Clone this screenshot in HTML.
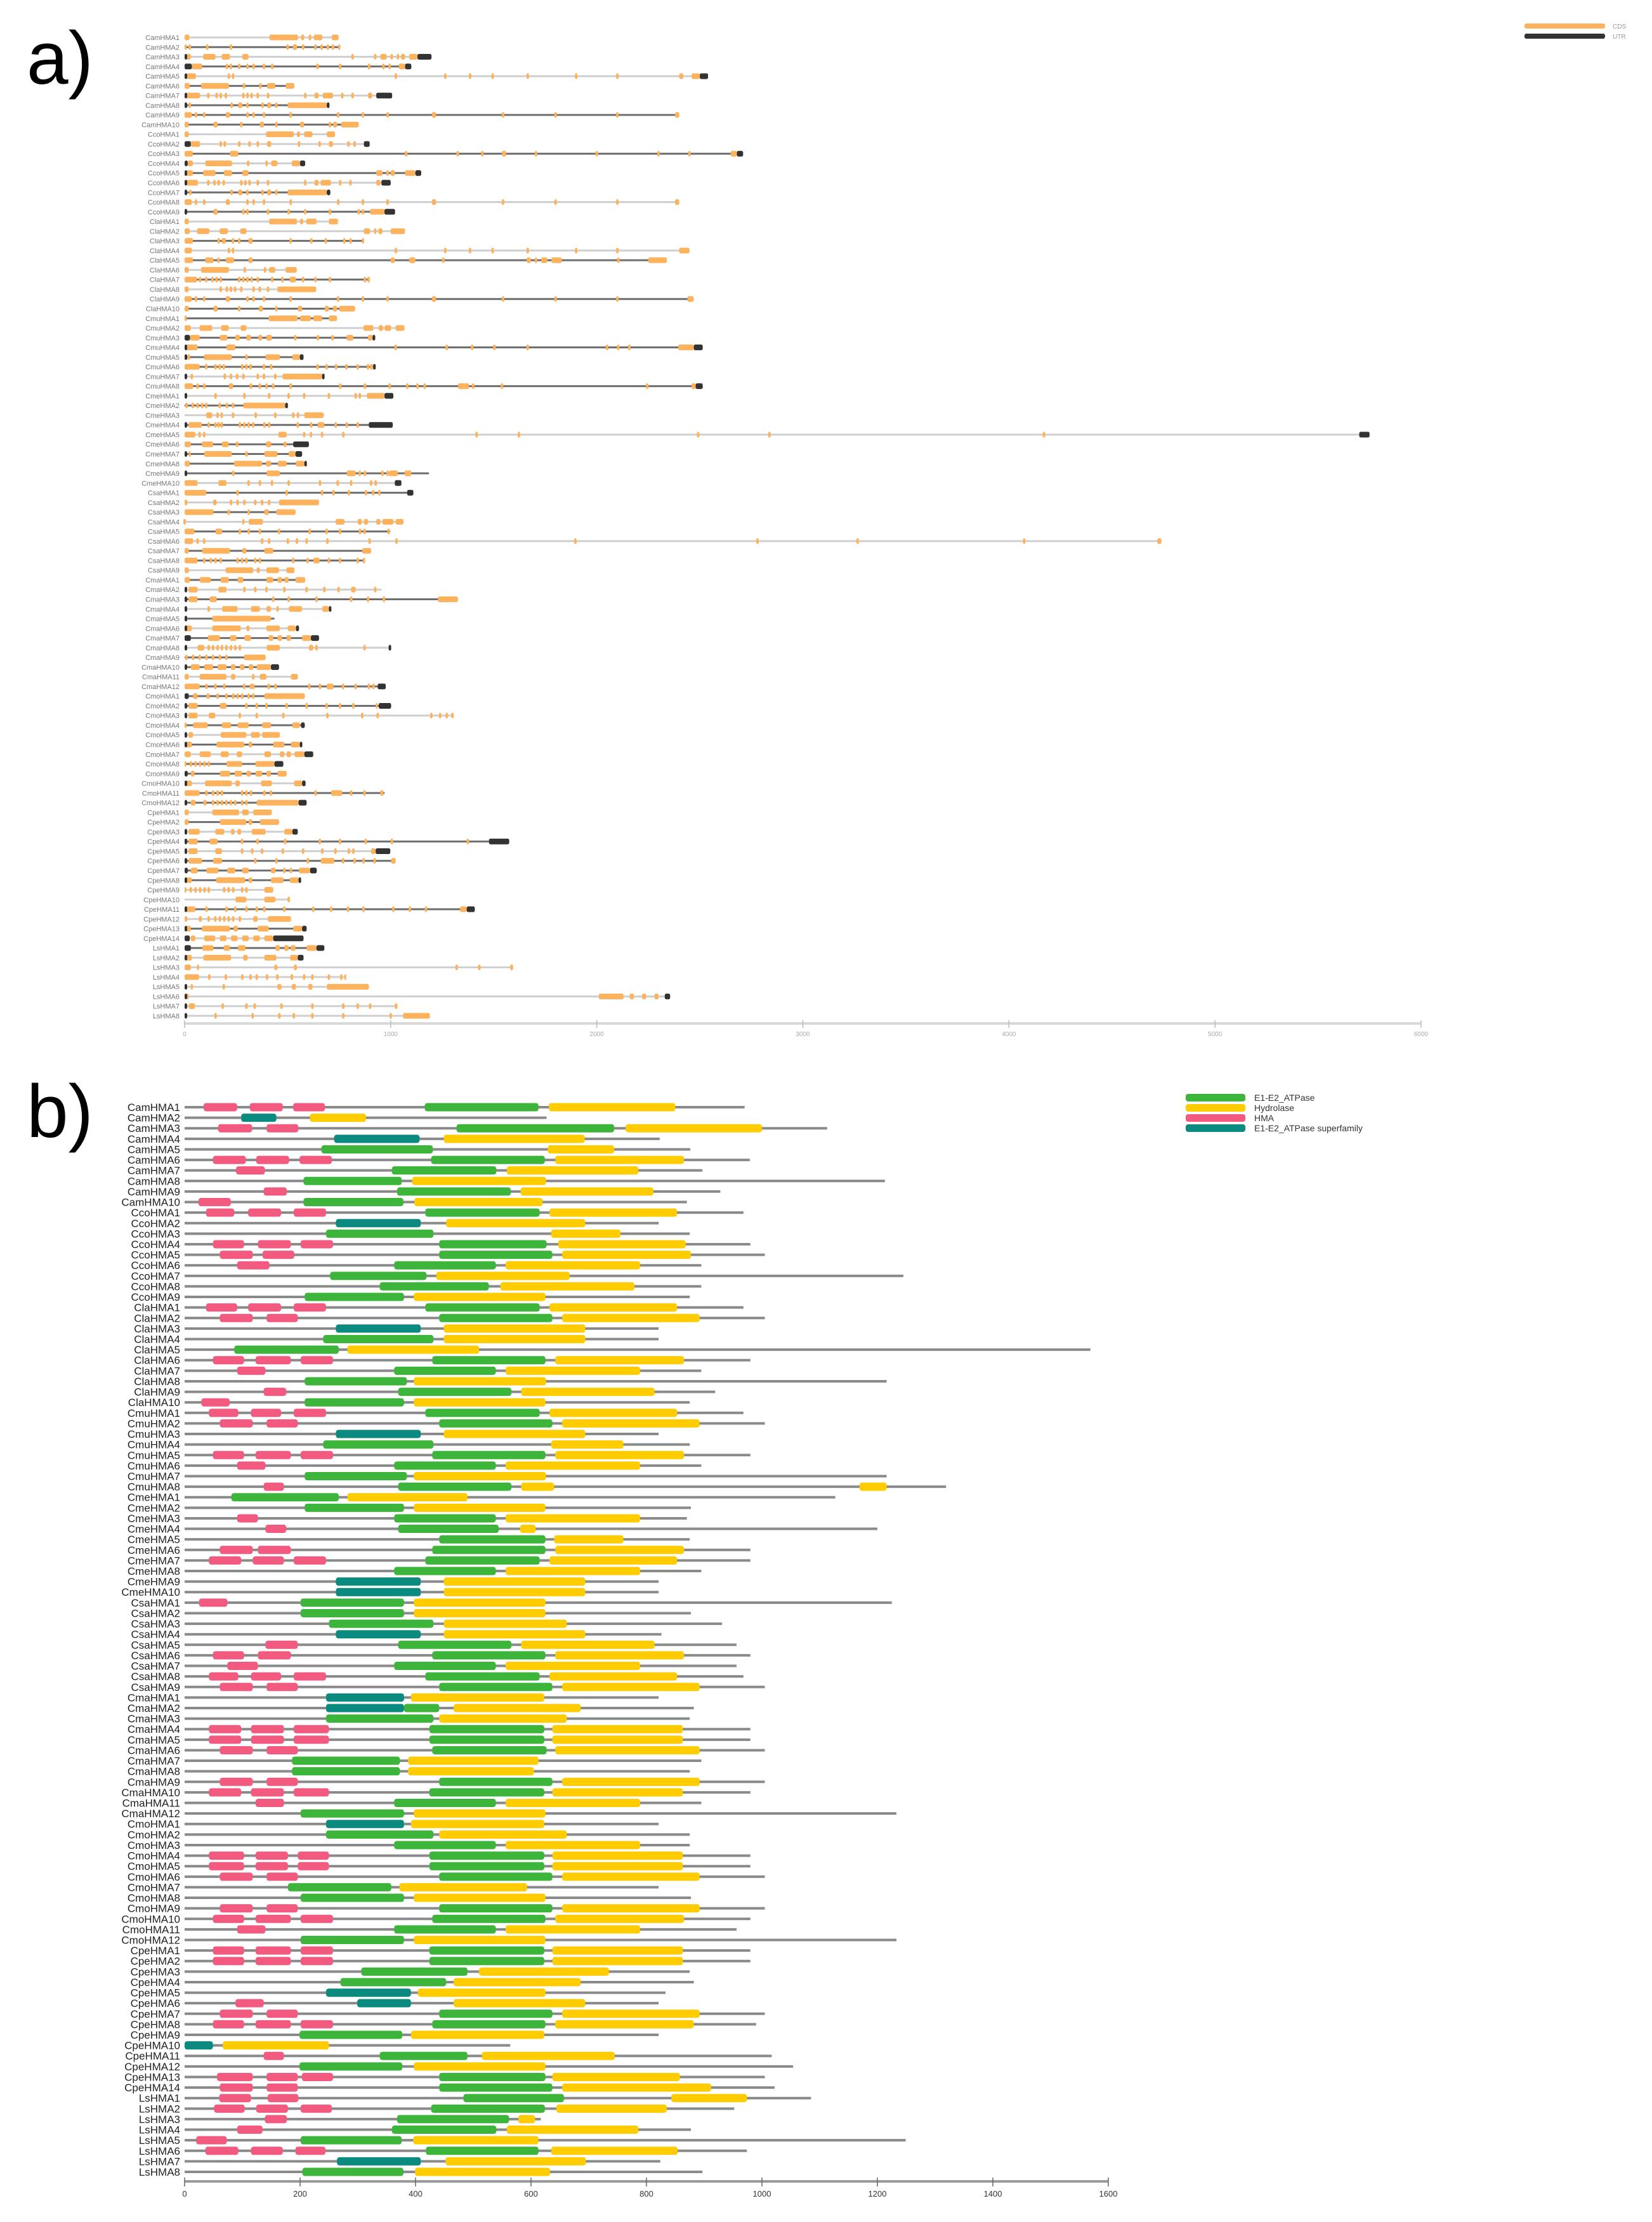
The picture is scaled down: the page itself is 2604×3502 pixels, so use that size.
<!DOCTYPE html>
<html><head><meta charset="utf-8"><style>
html,body{margin:0;padding:0;background:#fff;}
svg{display:block;font-family:"Liberation Sans",sans-serif;}
</style></head><body>
<svg id="fig" width="2604" height="3502" viewBox="0 0 2604 3502" xmlns="http://www.w3.org/2000/svg">
<rect x="0" y="0" width="2604" height="3502" fill="#fff"/>
<text x="42" y="132" font-size="118" fill="#000">a)</text>
<text x="42" y="1792" font-size="118" fill="#000">b)</text>
<g>
<rect x="2403" y="37" width="127" height="8" rx="3" fill="#fdb35e"/>
<text x="2542" y="45" font-size="10" fill="#999">CDS</text>
<rect x="2403" y="53" width="127" height="8" rx="3" fill="#333"/>
<text x="2542" y="61" font-size="10" fill="#999">UTR</text>
</g>
<g>
<rect x="1869" y="1724" width="94" height="12" rx="4" fill="#3db53a"/>
<text x="1977" y="1735" font-size="14" fill="#333">E1-E2_ATPase</text>
<rect x="1869" y="1740" width="94" height="12" rx="4" fill="#ffcc00"/>
<text x="1977" y="1751" font-size="14" fill="#333">Hydrolase</text>
<rect x="1869" y="1756" width="94" height="12" rx="4" fill="#f25b7f"/>
<text x="1977" y="1767" font-size="14" fill="#333">HMA</text>
<rect x="1869" y="1772" width="94" height="12" rx="4" fill="#0b8a7f"/>
<text x="1977" y="1783" font-size="14" fill="#333">E1-E2_ATPase superfamily</text>
</g>
<g id="pa"></g>
<g id="pb"></g>
</svg>
<script>
const NS="http://www.w3.org/2000/svg";
const groups=[["Cam",10],["Cco",9],["Cla",10],["Cmu",8],["Cme",10],["Csa",9],["Cma",12],["Cmo",12],["Cpe",14],["Ls",8]];
const names=[];groups.forEach(g=>{for(let i=1;i<=g[1];i++)names.push(g[0]+"HMA"+i);});

// ---- Panel a data (bp) ----
const geneLen=[747,756,1198,1100,2540,532,1007,703,2400,845,730,898,2710,585,1148,1000,707,2400,1021,744,1069,871,2450,2340,544,898,638,2470,827,739,1067,925,2514,577,927,678,2514,1013,501,678,1010,5750,603,570,592,1186,1052,1110,652,538,1062,998,4740,905,876,533,585,955,1326,711,436,555,652,1002,393,458,549,976,583,1002,1305,583,462,570,624,479,495,587,970,592,423,458,549,1575,998,1024,641,564,430,510,1408,516,592,577,678,577,1594,782,894,2356,1033,1190];
const utr5=[0,0,10,35,10,0,10,8,0,0,0,30,0,15,10,10,8,0,10,0,0,0,0,0,0,0,0,0,0,0,0,26,5,10,0,4,0,8,0,0,8,0,0,8,0,10,0,0,0,0,0,0,0,0,0,0,0,8,8,6,6,6,30,6,0,8,0,0,20,8,8,0,8,8,0,0,15,8,0,8,0,0,8,8,8,8,15,6,0,0,8,0,6,25,30,6,0,0,8,8,8,8];
const utr3=[0,0,1130,1070,2500,0,930,690,0,0,0,870,2680,560,1120,955,690,0,970,0,0,0,0,0,0,0,0,0,0,0,0,912,2471,559,915,667,2480,970,488,0,894,5700,527,538,581,0,1020,1080,0,0,0,0,0,0,0,0,0,0,0,700,0,540,613,990,0,419,0,937,0,942,0,565,0,559,581,436,0,570,0,553,0,0,523,1477,927,0,609,553,0,0,1369,0,570,430,640,549,0,0,0,2330,0,0];
const exons=["0-23 412-550 565-580 602-615 627-668 714-747","0-10 25 110 225 500 525-545 575 635 665 695 720 745-756","10-30 90-150 180-220 280-310 815 925 950-980 1005 1035 1050-1070 1090-1130","35-85 205 225 265 305 335 385 425 645 755 895 965 995 1040-1070","10-55 215 235 1025 1265 1385 1495 1665 1900 2100 2400-2420 2460-2500","0-25 80-215 288 368 400-440 490-532","10-75 115 155 175 200 285 305 325 355 405 585 630-650 670-720 765 815 890-910","25 228 260-280 305 378 400-420 445 500-690","0-35 55 95 200-220 305 335 385 515 745 865 985 1200-1220 1545 1800 2100 2380-2400","0-20 140-160 275 365-385 445 560-580 705 720-740 760-845",
"0-20 395-530 545-560 580-620 690-730","30-75 175 195 265 315 355 400-420 555 655 700-720 795 825","0-40 220-260 1075 1325 1445 1540-1560 1705 2000 2300 2450 2650-2680","15-40 100-230 308 398 420-450 520-560","10-40 90-150 190-230 280-310 930-960 985 1000-1020 1070-1120","10-65 115 145 165 190 275 295 315 355 405 585 630-650 660-710 755 805 930-950","28 228 260-280 305 378 400-420 445 500-690","0-35 55 95 200-220 305 335 385 515 745 865 985 1200-1220 1545 1800 2100 2380-2400","140-160 285 305 405 505 585 705 845 865 900-970","0-20 410-545 560-575 590-640 700-744",
"0-25 60-120 170-210 270-300 870-900 925 940-960 1000-1069","0-40 165 180-200 235 265 310-330 515 615 685 775 805 860-871","0-35 215 235 1025 1265 1385 1495 1665 1900 2100 2400-2450","0-40 100-140 165 200-240 310-330 1000-1020 1090-1120 1255 1660-1680 1705 1730-1760 1780-1830 2105 2250-2340","0-20 80-215 292 390 410-440 490-544","0-60 75 105 135 155 175 265 285 305 325 355 425 475 510-540 575 635 705 875 893","0-20 175 205 225 245 275 335 365 405 450-638","0-35 55 95 200-220 305 335 385 515 745 865 985 1200-1220 1545 1800 2100 2440-2470","0-20 140-160 265 360-380 445 550-570 680-700 720-740 750-827","0-10 408-548 560-613 624-667 700-739",
"0-30 73-134 177-214 272-300 868-916 942-963 970-1002 1024-1067","26-73 171-207 246-268 300-322 358-376 397-423 537 647 718 786-818 890-912","9-63 203-246 1024 1272 1395 1503 1665 2050 2104 2158 2395-2471","20 95-229 300 393-462 523-559","0-73 105 150 170 190 280 300 320 385 420 645 689 735 785 840 890 900-915","35 195 225 255 285 355 385 440 475-667","0-41 63 95 215-235 322 365 398 430 515 755 875 995 1080 1130 1165 1327-1380 1400 1540 2245 2460-2480","150 290 410 505 580 700 830 850 884-970","10 40 63 85 105 170 205 235 285-488","105-134 160 180 235 345 440 527 550 581-674",
"19-84 117 150 165 180 268 290 311 333 387 410 549 614 646-678 733 787 840","0-52 73 95 455-495 580 613 667 770 1417 1622 2492 2838 4170","0-30 84-138 181-214 255 395-420 480-495","20-30 95-229 300 387-451 505-538","0-25 240-376 395-420 452-495 540-581","236 398-462 787-830 850 875 960 985 992-1035 1067-1100","0-63 164-203 310 365 424 505 657 743 808 905 927","0-105 257 495 667 722 797 880 915 945","0-13 138-155 225 257 290 343 376 410 458-652","0-140 214 311 387-408 445-538",
"0 280-290 311-380 733-776 840-860 870-890 930-950 960-1013 1024-1062","0-48 150-182 268 311 365 458 607 689 754 851 873 990","0-41 63 95 376 410 501 545 592 693 898 1028 1896 2780 3266 4074 4720-4740","0-20 85-220 280-300 387-430 862-905","0-63 95 128 150 175 257 279 300 343 365 527 597 625-655 700 754 840 870","0-20 199-333 350-365 397-458 494-533","0-26 73-127 175-214 257-285 397-430 451-473 484-505 538-585","19-63 164-203 290 343 397 484 592 678 747 808-830 925","19-63 121-156 430 505 640 808 890 967 1229-1326","117 182-257 322-365 397-419 451 506-570 668-700",
"134-419","0-35 134-272 300-315 397-462 501-538","113-171 220-251 290-322 408-430 451-473 495-516 570-613","63-95 117 138 160 181 203 225 246 268 398-462 603-624 640 873","9 41 73 106 138 171 203 289-393","30-73 95-138 160-203 225-246 268-290 311-333 350-419","0-20 73-203 225-246 333 365-397 516-549","0-73 106 149 192 289 322 333 408 441 605 657 689-722 769 830 894 916","41-63 106-121 160 203 236 257 279 311 333 387-583","19-63 171-203 300 350 397 495 592 689 754 819 927-937",
"19-63 117-149 268 350 479 693 862 937 1197 1240 1272 1300","0-9 41-112 181-225 257-311 376-419 523-559","19-41 175-300 322-365 376-462","9-35 155-289 311-328 430-484 516-559","0-30 73-127 175-214 253-279 387-419 462-484 495-516 533-581","0-9 30 53 75 97 117 203-279 344-436","30-48 171-221 242-279 300-322 344-376 397-419 451-495","9-35 99-229 246-268 371-423 531-570","0-73 106 138 160 181 279 300 322 387 419 635 711-765 808 873 949-965","30-53 91-106 138 160 181 203 225 246 279 300 350-553",
"0-20 134-264 279-311 333-423","0-20 171-300 311-328 365-458","19-73 149-192 225-242 257-274 326-393 484-523","19-63 121-160 279 354 488 656 754 879 1006 1374","19-63 149-181 279 328 376 477 575 668 732 797 819 905-927","19-84 138-181 343 445 598 661-726 769 825 868 922 1002-1024","30-63 106-164 207-246 279-311 419-441 484 516 555-609","9-35 153-294 311-328 419-480 510-553","0-9 30 53 75 97 117 192 214 236 279 300 387-430","247-300 387-441 505",
"9-52 106 203 246 300 350 387 484 624 711 793 868 1013 1093 1171 1337-1369","0-13 69-84 117 149 171 192 214 236 268 333-354 404-516","9-30 84-220 237-258 354-408 527-570","30-52 95-149 171-203 225-257 279-311 333-365 387-430","86-140 190-220 259-296 441-462 484-505 516-538 592-640","9-35 91-225 284-306 387-445 512-549","0-30 60-70 435-450 530-545 1320 1430 1580-1594","0-70 120 200 280 320 350 400 450 520 580 620 700 760 775-782","30-40 190 450-470 520-540 600-620 690-894","10-20 2010-2130 2160-2180 2220-2240 2280-2300",
"20-50 185 300 340 470 620 770 840 900 1020-1033","150 330 460 530 620 770 1000 1060-1190"];
const darkLine=[0,1,0,1,0,1,0,1,1,1,0,0,1,0,1,0,1,0,1,0,0,1,0,1,0,1,0,1,1,1,0,1,1,1,1,0,1,0,1,0,1,0,1,1,1,1,0,1,0,1,0,1,0,1,1,0,1,0,1,0,1,0,1,0,1,1,0,1,1,1,0,1,0,1,0,1,1,0,1,1,0,1,0,1,0,1,1,1,0,0,1,0,1,0,1,0,0,0,0,0,0,0];
const axisATicks=[0,1000,2000,3000,4000,5000,6000];

// ---- Panel b data (aa) ----
const protLen=[970,627,1113,823,876,979,897,1213,928,870,968,821,875,980,1005,895,1245,895,875,968,1005,821,821,1569,980,895,1216,919,875,968,1005,821,875,980,895,1216,1319,1127,877,870,1200,875,980,980,895,821,821,1225,877,931,826,956,980,956,968,1005,821,882,875,980,980,1005,895,875,1005,980,895,1233,821,875,875,980,980,1005,821,877,1005,980,956,1233,980,980,875,882,833,821,1005,990,821,564,1017,1054,1005,1022,1085,952,617,877,1249,974,824,897];
const domains=["P33-91,113-170,188-243;G416-613;Y631-850","T98-159;Y217-314","P58-117,142-197;G471-744;Y764-1000","T259-407;Y449-693","G237-430;Y629-744","P49-106,124-181,199-255;G427-624;Y642-865","P89-139;G359-540;Y558-786","G206-376;Y394-626","P137-177;G368-565;Y582-812","P24-80;G206-379;Y398-620",
"P37-86,110-167,189-245;G417-615;Y632-853","T262-409;Y453-694","G245-431;Y635-755","P49-103,127-184,201-257;G441-627;Y647-868","P61-118,135-190;G441-637;Y654-877","P91-147;G363-539;Y556-789","G252-419;Y436-667","G338-527;Y547-779","G208-380;Y397-625",
"P37-91,110-167,189-245;G417-615;Y632-853","P61-118,142-196;G441-637;Y654-892","T262-409;Y449-694","G240-431;Y449-694","G86-267;Y282-510","P49-103,123-184,201-257;G429-625;Y642-865","P91-140;G363-539;Y556-789","G208-385;Y397-626","P137-176;G370-566;Y583-814","P29-78;G208-380;Y397-625",
"P42-93,115-167,189-245;G417-615;Y632-853","P61-118,142-196;G441-637;Y654-892","T262-409;Y449-694","G240-431;Y635-760","P49-103,123-184,201-257;G429-625;Y642-865","P91-140;G363-539;Y556-789","G208-385;Y397-626","P137-172;G370-566;Y583-640,1169-1216",
"G81-267;Y282-490","G208-380;Y397-625","P91-127;G363-539;Y556-789","P140-176;G370-544;Y581-608","G441-625;Y640-760","P61-118,127-184;G429-625;Y642-865","P42-98,118-172,189-245;G417-615;Y632-853","G363-539;Y556-789","T262-409;Y449-694","T262-409;Y449-694",
"P25-74;G201-380;Y397-625","G201-380;Y397-625","G250-431;Y449-662","T262-409;Y449-694","P140-196;G370-566;Y583-814","P49-103,127-184;G429-625;Y642-865","P74-127;G363-539;Y556-789","P42-93,115-167,189-245;G417-615;Y632-853","P61-118,142-196;G441-637;Y654-892",
"T245-380;Y392-623","T245-380;G380-441;Y466-686","G245-431;Y441-662","P42-98,115-172,189-250;G424-623;Y637-863","P42-98,115-172,189-250;G424-623;Y637-863","P61-118,142-196;G429-627;Y642-892","G186-373;Y387-613","G186-373;Y387-605","P61-118,142-196;G441-637;Y654-892","P42-98,115-172,189-250;G424-623;Y637-863","P123-172;G363-539;Y556-789","G201-380;Y397-625",
"T245-380;Y392-623","G245-431;Y441-662","G363-539;Y556-789","P42-103,123-179,196-250;G424-623;Y637-863","P42-103,123-179,196-250;G424-623;Y637-863","P61-118,142-196;G441-637;Y654-892","G179-358;Y372-593","G201-380;Y397-625","P61-118,142-196;G441-637;Y654-892","P49-103,123-184,201-257;G429-625;Y642-865","P91-140;G363-539;Y556-789","G201-380;Y397-625",
"P49-103,123-184,201-257;G424-623;Y637-863","P49-103,123-184,201-257;G424-623;Y637-863","G306-490;Y510-735","G270-453;Y466-686","T245-392;Y404-625","P88-137;T299-392;Y466-694","P61-118,142-196;G441-637;Y654-892","P49-103,123-184,201-257;G429-625;Y642-882","G199-377;Y392-623","T0-49;Y66-250","P137-172;G338-490;Y515-745","G199-377;Y397-625","P56-118,142-196,203-257;G441-625;Y637-858","P61-118,142-196;G441-637;Y654-912",
"P60-115,144-197;G483-657;Y843-974","P51-104,124-179,201-255;G427-624;Y644-835","P139-177;G368-562;Y578-607","P91-135;G359-540;Y558-786","P20-73;G201-376;Y396-613","P36-93,115-170,192-244;G418-613;Y635-854","T264-409;Y452-695","G204-379;Y399-633"];
const axisBTicks=[0,200,400,600,800,1000,1200,1400,1600];

// ---- scales ----
const AX0=291, AY0=59, ASTEP=(1601-59)/101, AXW=1949/6000;
const BX0=291, BY0=1745, BSTEP=(3423-1745)/101, BXW=1456/1600;
const xa=v=>AX0+v*AXW, ya=i=>AY0+i*ASTEP;
const xb=v=>BX0+v*BXW, yb=i=>BY0+i*BSTEP;
function mk(tag,attrs,parent){const e=document.createElementNS(NS,tag);for(const k in attrs)e.setAttribute(k,attrs[k]);parent.appendChild(e);return e;}

const pa=document.getElementById('pa');
const pb=document.getElementById('pb');
const colB={G:"#3db53a",Y:"#ffcc00",P:"#f25b7f",T:"#0b8a7f"};
const nmB={G:"e1e2-atpase-domain",Y:"hydrolase-domain",P:"hma-domain",T:"e1e2-superfamily-domain"};

// panel a rows
names.forEach((n,i)=>{
  const y=ya(i);
  const g=mk('g',{},pa);
  
  
  const t=mk('text',{x:283,y:y+4,'font-size':11,'text-anchor':'end',fill:'#777'},g);
  
  
  t.textContent=n;
  const ln=mk('line',{x1:xa(0),x2:xa(geneLen[i]),y1:y,y2:y,stroke:darkLine[i]?'#6e6e6e':'#cfcfcf','stroke-width':3},g);
  
  
  exons[i].split(' ').forEach(s=>{
    let a,b;if(s.indexOf('-')>0){[a,b]=s.split('-').map(Number);}else{a=+s-6;b=+s+6;}
    const w=Math.max(3,xa(b)-xa(a));
    const r=mk('rect',{x:xa(a),y:y-4.5,width:w,height:9,rx:2.5,fill:'#fdb35e'},g);
    
    
  });
  if(utr5[i]>0){const r=mk('rect',{x:xa(0),y:y-4.5,width:Math.max(4,xa(utr5[i])-xa(0)),height:9,rx:2.5,fill:'#333'},g);
    
    }
  if(utr3[i]>0){const r=mk('rect',{x:xa(utr3[i]),y:y-4.5,width:Math.max(4,xa(geneLen[i])-xa(utr3[i])),height:9,rx:2.5,fill:'#333'},g);
    
    }
});
// panel a axis
const axA=mk('g',{},pa);


mk('line',{x1:xa(0),x2:xa(6000),y1:1613,y2:1613,stroke:'#d8d8d8','stroke-width':4},axA);
axisATicks.forEach(v=>{
  mk('line',{x1:xa(v),x2:xa(v),y1:1608,y2:1620,stroke:'#bbb','stroke-width':1.5},axA);
  const t=mk('text',{x:xa(v),y:1633,'font-size':10,'text-anchor':'middle',fill:'#aaa'},axA);
  
  
  t.textContent=v;
});

// panel b rows
names.forEach((n,i)=>{
  const y=yb(i);
  const g=mk('g',{},pb);
  
  
  const t=mk('text',{x:284,y:y+6,'font-size':17,'text-anchor':'end',fill:'#222'},g);
  
  
  t.textContent=n;
  const ln=mk('line',{x1:xb(0),x2:xb(protLen[i]),y1:y,y2:y,stroke:'#8a8a8a','stroke-width':4},g);
  
  
  domains[i].split(';').forEach(part=>{
    const k=part[0];
    part.slice(1).split(',').forEach(seg=>{
      const [a,b]=seg.split('-').map(Number);
      const r=mk('rect',{x:xb(a),y:y-6.5,width:xb(b)-xb(a),height:13,rx:4,fill:colB[k]},g);
      
      
    });
  });
});
// panel b axis
const axB=mk('g',{},pb);


mk('line',{x1:xb(0),x2:xb(1600),y1:3438,y2:3438,stroke:'#9a9a9a','stroke-width':4},axB);
axisBTicks.forEach(v=>{
  mk('line',{x1:xb(v),x2:xb(v),y1:3432,y2:3446,stroke:'#666','stroke-width':1.5},axB);
  const t=mk('text',{x:xb(v),y:3462,'font-size':13,'text-anchor':'middle',fill:'#333'},axB);
  
  
  t.textContent=v;
});
</script>
</body></html>
